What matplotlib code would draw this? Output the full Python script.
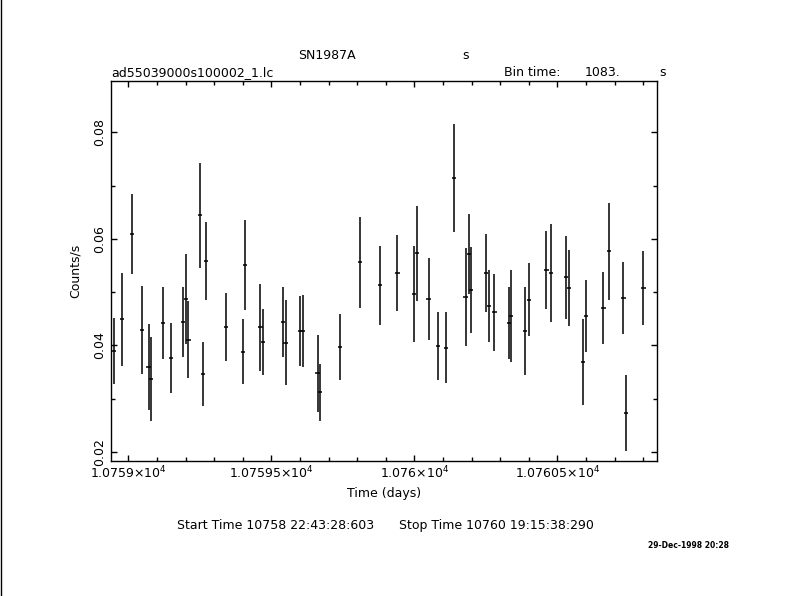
import matplotlib

matplotlib.use("Agg")
import matplotlib.pyplot as plt
from matplotlib.lines import Line2D
from matplotlib.ticker import MultipleLocator, FuncFormatter

# ── light curve values ───────────────────────────────────────────────────
time_days = [
    10758.951, 10758.979, 10759.012, 10759.049, 10759.071, 10759.080,
    10759.122, 10759.150, 10759.192, 10759.201, 10759.210, 10759.250,
    10759.260, 10759.271, 10759.341, 10759.402, 10759.409, 10759.462,
    10759.470, 10759.540, 10759.550, 10759.601, 10759.611, 10759.662,
    10759.671, 10759.741, 10759.810, 10759.881, 10759.941, 10760.000,
    10760.009, 10760.050, 10760.082, 10760.112, 10760.139, 10760.179,
    10760.192, 10760.199, 10760.250, 10760.260, 10760.280, 10760.330,
    10760.339, 10760.388, 10760.402, 10760.462, 10760.479, 10760.531,
    10760.540, 10760.591, 10760.601, 10760.661, 10760.680, 10760.731,
    10760.741, 10760.801,
]
rate = [
    0.0390, 0.0449, 0.0609, 0.0429, 0.0360, 0.0337, 0.0442, 0.0377,
    0.0444, 0.0487, 0.0411, 0.0644, 0.0346, 0.0558, 0.0434, 0.0388,
    0.0551, 0.0434, 0.0407, 0.0444, 0.0405, 0.0427, 0.0427, 0.0348,
    0.0312, 0.0397, 0.0556, 0.0513, 0.0536, 0.0496, 0.0573, 0.0487,
    0.0399, 0.0396, 0.0714, 0.0491, 0.0572, 0.0504, 0.0536, 0.0474,
    0.0462, 0.0442, 0.0455, 0.0427, 0.0486, 0.0541, 0.0536, 0.0528,
    0.0508, 0.0369, 0.0455, 0.0470, 0.0577, 0.0489, 0.0273, 0.0508,
]
rate_err = [
    0.0062, 0.0087, 0.0075, 0.0083, 0.0081, 0.0078, 0.0067, 0.0066,
    0.0066, 0.0084, 0.0073, 0.0098, 0.0060, 0.0073, 0.0064, 0.0061,
    0.0085, 0.0082, 0.0062, 0.0065, 0.0080, 0.0065, 0.0067, 0.0072,
    0.0054, 0.0062, 0.0086, 0.0074, 0.0071, 0.0090, 0.0089, 0.0077,
    0.0063, 0.0067, 0.0101, 0.0092, 0.0075, 0.0080, 0.0074, 0.0067,
    0.0072, 0.0067, 0.0086, 0.0083, 0.0069, 0.0073, 0.0092, 0.0078,
    0.0071, 0.0080, 0.0067, 0.0068, 0.0091, 0.0068, 0.0071, 0.0070,
]
bin_time_s = 1083.0
half_bin_days = bin_time_s / 2 / 86400.0

FS = 9

fig = plt.figure(figsize=(7.9, 5.96), dpi=100)
ax = fig.add_axes([0.1409, 0.2270, 0.6904, 0.6371])

ax.errorbar(time_days, rate, yerr=rate_err, xerr=half_bin_days * 1.2,
            fmt="none", ecolor="black", elinewidth=1.1, capsize=0)

ax.set_xlim(10758.9406, 10760.8476)
ax.set_ylim(0.01837, 0.08963)

ax.xaxis.set_major_locator(MultipleLocator(0.5))
ax.xaxis.set_minor_locator(MultipleLocator(0.1))
ax.yaxis.set_major_locator(MultipleLocator(0.02))
ax.yaxis.set_minor_locator(MultipleLocator(0.01))


def sci_fmt(v, pos):
    mant = f"{v / 1e4:.6f}".rstrip("0").rstrip(".")
    return mant + "×10$^{4}$"


ax.xaxis.set_major_formatter(FuncFormatter(sci_fmt))
ax.yaxis.set_major_formatter(FuncFormatter(lambda v, p: f"{v:.2f}"))

ax.tick_params(which="both", direction="in", top=True, right=True,
               labelsize=FS, width=1.0, color="black")
ax.tick_params(which="major", length=4.3)
ax.tick_params(which="minor", length=2.9)
ax.tick_params(axis="x", pad=3)
ax.tick_params(axis="y", pad=4)
for lbl in ax.get_yticklabels():
    lbl.set_rotation(90)
    lbl.set_va("center")

for sp in ax.spines.values():
    sp.set_linewidth(1.0)

ax.set_xlabel("Time (days)", fontsize=FS, labelpad=4)
ax.set_ylabel("Counts/s", fontsize=FS, labelpad=8)

# ── header / footer texts ────────────────────────────────────────────────
W, H = 790.0, 596.0


def put(x, y, s, **kw):
    fig.text(x / W, 1 - y / H, s, va="center", ha="left", fontsize=FS, **kw)


put(298, 55.7, "SN1987A")
put(462, 55.7, "s")
put(111, 72.3, "ad55039000s100002_1.lc")
put(504, 72.3, "Bin time:")
put(585, 72.3, "1083.")
put(659, 72.3, "s")
put(177, 525.7, "Start Time 10758 22:43:28:603")
put(399, 525.7, "Stop Time 10760 19:15:38:290")
fig.text(648 / W, 1 - 545 / H, "29-Dec-1998 20:28", va="center", ha="left",
         fontsize=5.5, fontweight="bold")

fig.add_artist(Line2D([0.0008, 0.0008], [0, 1], color="black", linewidth=1.0,
                      transform=fig.transFigure))

fig.savefig("out.png", dpi=100)
